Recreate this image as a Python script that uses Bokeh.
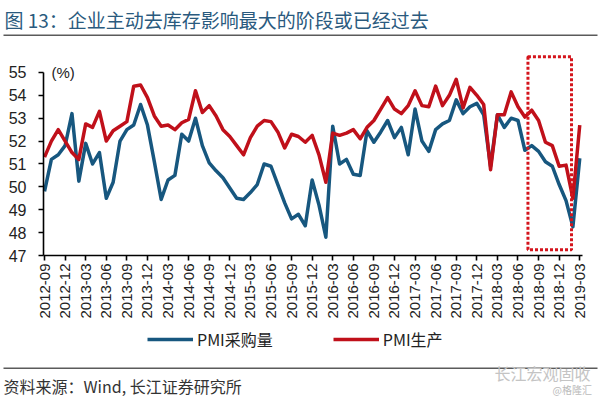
import numpy as np
from bokeh.plotting import figure
from bokeh.models import (FixedTicker, Label, BoxAnnotation, Range1d, Legend,
                          LegendItem)
from bokeh.embed import file_html
from bokeh.resources import INLINE

# ---- data ----
tick_labels = ["2012-09", "2012-12", "2013-03", "2013-06", "2013-09", "2013-12",
               "2014-03", "2014-06", "2014-09", "2014-12", "2015-03", "2015-06",
               "2015-09", "2015-12", "2016-03", "2016-06", "2016-09", "2016-12",
               "2017-03", "2017-06", "2017-09", "2017-12", "2018-03", "2018-06",
               "2018-09", "2018-12", "2019-03"]

purchase = [49.8, 51.2, 51.4, 51.8, 53.2, 50.25, 51.9, 51.0, 51.5, 49.5,
            50.2, 52.0, 52.5, 52.7, 53.6, 52.7, 51.1, 49.45, 50.3, 50.5,
            52.3, 52.0, 53.0, 51.8, 51.05, 50.7, 50.4, 49.95, 49.5, 49.45,
            49.75, 50.1, 51.0, 50.9, 50.1, 49.3, 48.6, 48.8, 48.3, 50.3,
            49.2, 47.8, 52.65, 51.0, 51.2, 50.55, 50.5, 52.45, 51.95, 52.4,
            52.9, 52.15, 52.6, 51.4, 53.4, 52.0, 51.55, 52.5, 52.75, 52.9,
            53.8, 53.2, 53.5, 53.65, 53.15, 50.9, 53.15, 52.6, 53.0, 52.9,
            51.6, 51.8, 51.55, 51.1, 50.9, 50.1, 49.4, 48.25, 51.25]

production = [51.3, 52.0, 52.5, 52.0, 51.5, 51.2, 52.75, 52.6, 53.3, 52.0,
              52.45, 52.65, 52.85, 54.4, 54.45, 53.9, 53.1, 52.65, 52.7, 52.5,
              52.8, 52.95, 54.2, 53.25, 53.55, 53.1, 52.5, 52.2, 51.8, 51.4,
              52.15, 52.65, 52.9, 52.85, 52.4, 51.7, 52.3, 52.2, 51.95, 52.25,
              51.4, 50.2, 52.35, 52.25, 52.35, 52.5, 52.1, 52.6, 52.9, 53.4,
              53.9, 53.4, 53.2, 53.55, 54.2, 53.55, 53.5, 54.4, 53.55, 54.0,
              54.7, 53.45, 54.35, 54.0, 53.6, 50.75, 53.15, 53.15, 54.15, 53.5,
              53.05, 53.35, 52.9, 51.95, 51.8, 50.9, 50.95, 49.5, 52.7]

y_ticks = [47, 48, 49, 50, 51, 52, 53, 54, 55]
series_names = ["PMI采购量", "PMI生产"]

x = list(range(len(purchase)))
tick_pos = list(range(0, len(purchase), 3))

BLUE = "#17577F"
RED = "#C0101A"
LATIN = "Liberation Sans"
CJK = "Noto Sans CJK SC"

W, H = 600, 398
# plot area in page pixels: x 43..582 for months -0.15..78.4, y 255..55 for 47..55.74
X0, X1, PX0, PX1 = -0.15, 78.4, 43, 582
Y0, Y1, PY0, PY1 = 47.0, 55.74, 255, 55
kx = (PX1 - PX0) / (X1 - X0)
ky = (PY0 - PY1) / (Y1 - Y0)
x_range = Range1d(X0 - PX0 / kx, X0 + (W - PX0) / kx)
y_range = Range1d(Y0 - (H - PY0) / ky, Y0 + PY0 / ky)

# frame covers the whole canvas; axes are pinned with fixed_location
p = figure(width=W, height=H, output_backend="svg", toolbar_location=None,
           x_range=x_range, y_range=y_range,
           min_border=0, min_border_left=0, min_border_right=0,
           min_border_top=0, min_border_bottom=0)
p.outline_line_color = None
p.xgrid.visible = False
p.ygrid.visible = False
p.background_fill_color = "white"
p.border_fill_color = "white"

p.xaxis.fixed_location = Y0
p.xaxis.bounds = (X0, X1)
p.xaxis.ticker = FixedTicker(ticks=tick_pos)
p.xaxis.major_label_overrides = {t: l for t, l in zip(tick_pos, tick_labels)}
p.xaxis.major_label_orientation = np.pi / 2
p.xaxis.major_label_text_font = LATIN
p.xaxis.major_label_text_font_size = "15px"
p.xaxis.major_label_text_color = "#222222"
p.xaxis.major_label_standoff = 3
p.yaxis.fixed_location = X0
p.yaxis.ticker = FixedTicker(ticks=y_ticks)
p.yaxis.bounds = (47, 55)
p.yaxis.major_label_text_font = LATIN
p.yaxis.major_label_text_font_size = "16px"
p.yaxis.major_label_text_color = "#222222"
p.yaxis.major_label_standoff = 12
for ax in (p.xaxis, p.yaxis):
    ax.axis_line_color = "black"
    ax.axis_line_width = 1.6
    ax.major_tick_line_color = "black"
    ax.major_tick_line_width = 1.6
    ax.major_tick_out = 5
    ax.major_tick_in = 0
    ax.minor_tick_line_color = None

r_blue = p.line(x, purchase, line_color=BLUE, line_width=3.5, line_join="round")
r_red = p.line(x, production, line_color=RED, line_width=3.5, line_join="round")

p.add_layout(BoxAnnotation(left=70.45, right=76.8, bottom=47.25, top=55.68,
                           fill_alpha=0, line_color="#D4141C", line_alpha=1,
                           line_width=3, line_dash="3 2"))
p.add_layout(Label(x=1.0, y=55.0, text="(%)", text_baseline="middle",
                   text_font=LATIN, text_font_size="15px", text_color="#222222"))

legend = Legend(items=[LegendItem(label=series_names[0], renderers=[r_blue]),
                       LegendItem(label=series_names[1], renderers=[r_red])],
                orientation="horizontal", location=(147, H - 351),
                glyph_width=46, glyph_height=16, label_height=16,
                label_standoff=4, spacing=60, padding=0, margin=0,
                border_line_color=None, background_fill_alpha=0,
                label_text_font=CJK, label_text_font_size="16px",
                label_text_color="#222222")
p.add_layout(legend, "center")


def text(px, py, s, font, size, color, baseline="top"):
    p.add_layout(Label(x=px, y=H - py, x_units="screen", y_units="screen",
                       text=s, text_baseline=baseline, text_font=font,
                       text_font_size=size, text_color=color))


def rule(py):
    p.add_layout(BoxAnnotation(left=3, right=597, top=H - py, bottom=H - py - 1.6,
                               left_units="screen", right_units="screen",
                               top_units="screen", bottom_units="screen",
                               fill_color="#5A5A5A", fill_alpha=1,
                               line_color=None))


text(4, 5, "图 13：企业主动去库存影响最大的阶段或已经过去", CJK, "19px", "#2A5A7E")
rule(34)
rule(367)
text(3, 373, "资料来源：Wind, 长江证券研究所", CJK, "16px", "#333333")
text(494, 360, "长江宏观固收", CJK, "16px", "#C4C4C4")
text(552, 381, "@格隆汇", CJK, "10px", "#BBBBBB")

open("out.html", "w").write(file_html(p, INLINE))
